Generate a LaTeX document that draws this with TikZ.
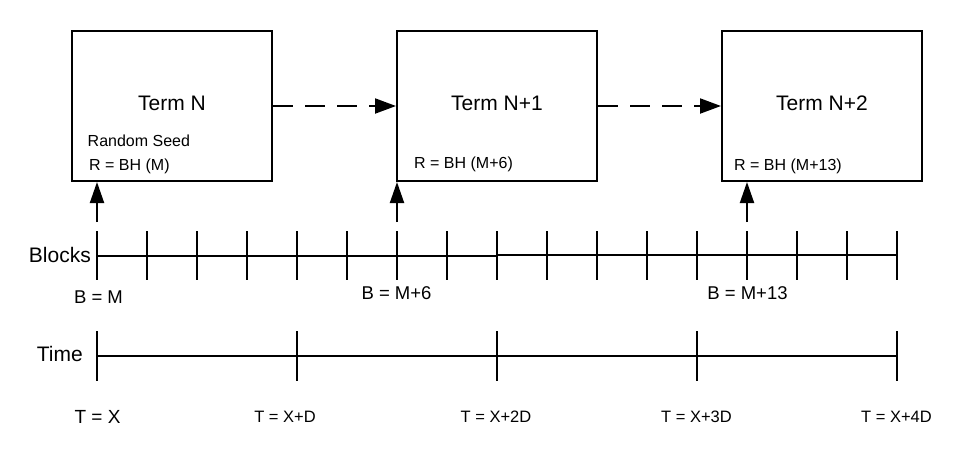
\documentclass[tikz,border=0pt]{standalone}
\usepackage{fontspec}
\setmainfont{Liberation Sans}
\usetikzlibrary{arrows.meta}
\begin{document}
\begin{tikzpicture}[x=1pt,y=-1pt,
  termbox/.style={draw,line width=2pt,minimum width=200pt,minimum height=150pt,inner sep=0pt},
  termtxt/.style={inner sep=0pt,font=\fontsize{21}{24}\selectfont},
  smalltxt/.style={inner sep=0pt,anchor=west,font=\fontsize{16}{19}\selectfont},
  axislbl/.style={inner sep=0pt,anchor=east,font=\fontsize{21}{24}\selectfont},
  blbl/.style={inner sep=0pt,font=\fontsize{18.5}{21}\selectfont},
  tlbl/.style={inner sep=0pt,font=\fontsize{16.5}{19}\selectfont},
  axis/.style={line width=2pt},
  tick/.style={line width=2pt},
  uparrow/.style={line width=2pt,-{Triangle[length=21pt,width=14pt]}},
  dasharrow/.style={line width=2pt,dash pattern=on 20pt off 12pt,-{Triangle[length=21pt,width=15pt]}}
]
\useasboundingbox (0,0) rectangle (964,451);
\fill[white] (0,0) rectangle (964,451);

% boxes
\node[termbox] (b1) at (172,106) {};
\node[termbox] (b2) at (497,106) {};
\node[termbox] (b3) at (822,106) {};

\node[termtxt] (t1) at (172,103) {Term N};
\node[termtxt] (t2) at (497,103) {Term N+1};
\node[termtxt] (t3) at (822,103) {Term N+2};

\node[smalltxt] (rs) at (87.5,141) {Random Seed};
\node[smalltxt] (r1) at (89,166) {R = BH (M)};
\node[smalltxt] (r2) at (414,164) {R = BH (M+6)};
\node[smalltxt] (r3) at (734,166) {R = BH (M+13)};

% dashed arrows
\draw[dasharrow] (b1.east) -- (b2.west);
\draw[dasharrow] (b2.east) -- (b3.west);

% blocks axis
\coordinate (bs) at (97,256);
\coordinate (bm) at (497,256);
\coordinate (bm2) at (497,254.5);
\coordinate (be) at (897,254.5);
\draw[axis] (bs) -- (bm);
\draw[axis] (bm2) -- (be);
\foreach \i in {0,...,16}{
  \draw[tick] (97+50*\i,231) -- (97+50*\i,280);
}
\coordinate (ka) at (97,222);
\coordinate (kb) at (397,222);
\coordinate (kc) at (747,222);
\draw[uparrow] (ka) -- (ka |- b1.south);
\draw[uparrow] (kb) -- (kb |- b2.south);
\draw[uparrow] (kc) -- (kc |- b3.south);

\node[axislbl] (blk) at (91,255) {Blocks};
\node[blbl] (bl1) at (98.5,297) {B = M};
\node[blbl] (bl2) at (396.5,293.5) {B = M+6};
\node[blbl] (bl3) at (747.5,293.5) {B = M+13};

% time axis
\coordinate (ts) at (97,356);
\coordinate (te) at (897,356);
\draw[axis] (ts) -- (te);
\foreach \i in {0,...,4}{
  \draw[tick] (97+200*\i,331) -- (97+200*\i,381);
}
\node[axislbl] (tim) at (83,353.5) {Time};
\node[inner sep=0pt,font=\fontsize{19}{22}\selectfont] (x0) at (97.5,416.5) {T = X};
\node[tlbl] (x1) at (285,416.5) {T = X+D};
\node[tlbl] (x2) at (496,416.5) {T = X+2D};
\node[tlbl] (x3) at (696.5,416.5) {T = X+3D};
\node[tlbl] (x4) at (896.5,416.5) {T = X+4D};
\end{tikzpicture}
\end{document}
